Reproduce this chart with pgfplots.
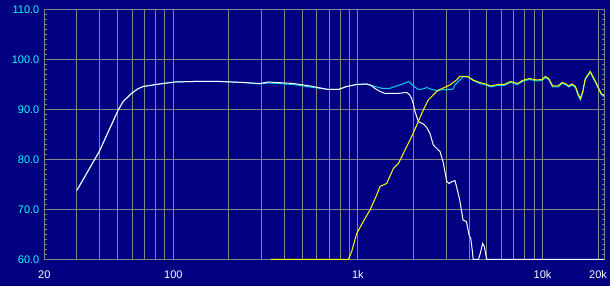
\documentclass[border=0pt]{standalone}
\usepackage{fontspec}
\setmainfont{Liberation Sans}
\usepackage{pgfplots}
\pgfplotsset{compat=1.18}
\definecolor{bgnavy}{RGB}{0,0,128}
\definecolor{gridgray}{RGB}{132,132,132}
\definecolor{lblcyan}{RGB}{0,255,255}
\definecolor{sumcyan}{RGB}{0,210,240}
\definecolor{tweety}{RGB}{255,255,0}
\begin{document}
\begin{tikzpicture}[x=1pt,y=1pt]
\fill[bgnavy] (0,0) rectangle (610,286);
\useasboundingbox (0,0) rectangle (610,286);
\begin{axis}[
  at={(44.3pt,26.5pt)}, anchor=south west,
  scale only axis, width=559.7pt, height=250pt,
  xmode=log, xmin=20, xmax=21530, ymin=60, ymax=110,
  axis line style={gridgray, line width=1pt},
  xtick={20,30,40,50,60,70,80,90,100,200,300,400,500,600,700,800,900,1000,2000,3000,4000,5000,6000,7000,8000,9000,10000,20000},
  xticklabels={20,,,,,,,,100,,,,,,,,,1k,,,,,,,,,10k,20k},
  ytick={60,70,80,90,100,110},
  yticklabels={60.0,70.0,80.0,90.0,100.0,110.0},
  minor y tick num=9,
  xmajorgrids, ymajorgrids,
  major grid style={gridgray, line width=1pt},
  major tick length=0pt, minor tick length=2.3pt,
  tick align=inside,
  ytick pos=both, yticklabel pos=left, xtick pos=bottom,
  minor tick style={gridgray, line width=0.8pt},
  xticklabel style={white, font=\fontsize{11}{13}\selectfont, anchor=north, inner sep=0pt, yshift=-11.2pt},
  yticklabel style={lblcyan, font=\fontsize{11}{13}\selectfont, anchor=east, inner sep=0pt, xshift=-4.8pt},
  every axis plot/.append style={line width=1pt, no marks, sharp plot},
  clip=true,
]
% summed response (cyan)
\addplot[sumcyan] coordinates {
(30,73.8) (39.7,81.6) (50.3,89.9) (53.5,91.6) (59.3,93.2) (64,94.1) (68.7,94.6) (84.2,95.1) (102,95.5) (128,95.6) (180,95.6) (240,95.4) (294,95.1) (327,95.3) (447,95.0) (550,94.5) (691,94.0) (783,94.0) (869,94.6) (985,95.0) (1116,95.1) (1237,94.6) (1360,94.2) (1480,94.2) (1622,94.7) (1770,95.2) (1885,95.6) (2000,94.7) (2125,94.0) (2250,94.1) (2360,94.4) (2510,94.0) (2670,93.8) (2784,93.9) (3027,94.0) (3150,94.0) (3280,94.1) (3350,94.9) (3500,95.6) (3710,96.5) (3930,96.5) (4210,95.8) (4560,95.2) (4920,94.9) (5250,94.5) (5700,94.8) (6190,94.8) (6730,95.4) (7310,95.0) (7790,95.6) (8460,96.0) (9340,95.7) (9930,95.8) (10370,96.4) (10800,96.0) (11350,94.5) (12140,94.5) (12750,95.2) (13300,95.0) (13860,94.5) (14460,94.9) (15080,94.4) (15580,92.8) (16050,91.9) (16510,93.4) (17060,96.0) (18120,97.4) (19200,95.7) (20800,93.0) (21500,92.6)
};
% woofer (white)
\addplot[white] coordinates {
(30,73.8) (39.7,81.6) (50.3,89.9) (53.5,91.6) (59.3,93.2) (64,94.1) (68.7,94.6) (84.2,95.1) (102,95.5) (128,95.6) (180,95.6) (240,95.4) (294,95.2) (327,95.5) (447,95.2) (550,94.7) (691,94.0) (783,94.0) (869,94.6) (985,95.0) (1116,95.1) (1180,94.8) (1237,94.2) (1320,93.6) (1401,93.2) (1622,93.2) (1837,93.4) (1900,93.0) (1955,92.2) (2000,91.0) (2038,89.6) (2125,87.6) (2260,87.1) (2360,86.4) (2457,85.2) (2560,82.9) (2724,81.9) (2784,81.6) (2899,79.4) (2996,76.5) (3027,75.6) (3122,75.2) (3200,75.5) (3354,75.8) (3420,74.6) (3560,71.9) (3710,67.9) (3870,67.6) (4000,64.9) (4085,64.2) (4170,61.6) (4210,60) (4500,60) (4620,61.5) (4740,63.2) (4840,62.6) (4980,60) (21530,60)
};
% tweeter (yellow)
\addplot[tweety] coordinates {
(338,60) (887,60) (925,61.6) (985,65.2) (1069,67.6) (1162,69.9) (1264,72.9) (1317,74.6) (1431,75.2) (1556,78.2) (1656,79.2) (1800,81.9) (1955,84.6) (2083,86.9) (2260,89.9) (2405,91.9) (2670,93.6) (2784,94.0) (3027,94.6) (3150,94.9) (3420,95.9) (3560,96.6) (3930,96.6) (4210,95.9) (4560,95.4) (4920,95.1) (5250,94.7) (5700,95.0) (6190,95.0) (6730,95.6) (7310,95.2) (7790,95.8) (8460,96.2) (9340,95.9) (9930,96.0) (10370,96.6) (10800,96.2) (11350,94.7) (12140,94.7) (12750,95.4) (13300,95.2) (13860,94.7) (14460,95.1) (15080,94.6) (15580,93.2) (16050,92.2) (16510,93.6) (17060,96.2) (18120,97.6) (19200,95.9) (20800,93.2) (21500,92.8)
};
\node[lblcyan, font=\fontsize{11}{13}\selectfont, anchor=east, inner sep=0pt, xshift=-5.3pt] at (axis cs:20,104.9) {dBSPL};
\node[white, font=\fontsize{11}{13}\selectfont, anchor=north, inner sep=0pt, yshift=-11.2pt] at (axis cs:13570,60) {Hz};
\end{axis}
\end{tikzpicture}
\end{document}
